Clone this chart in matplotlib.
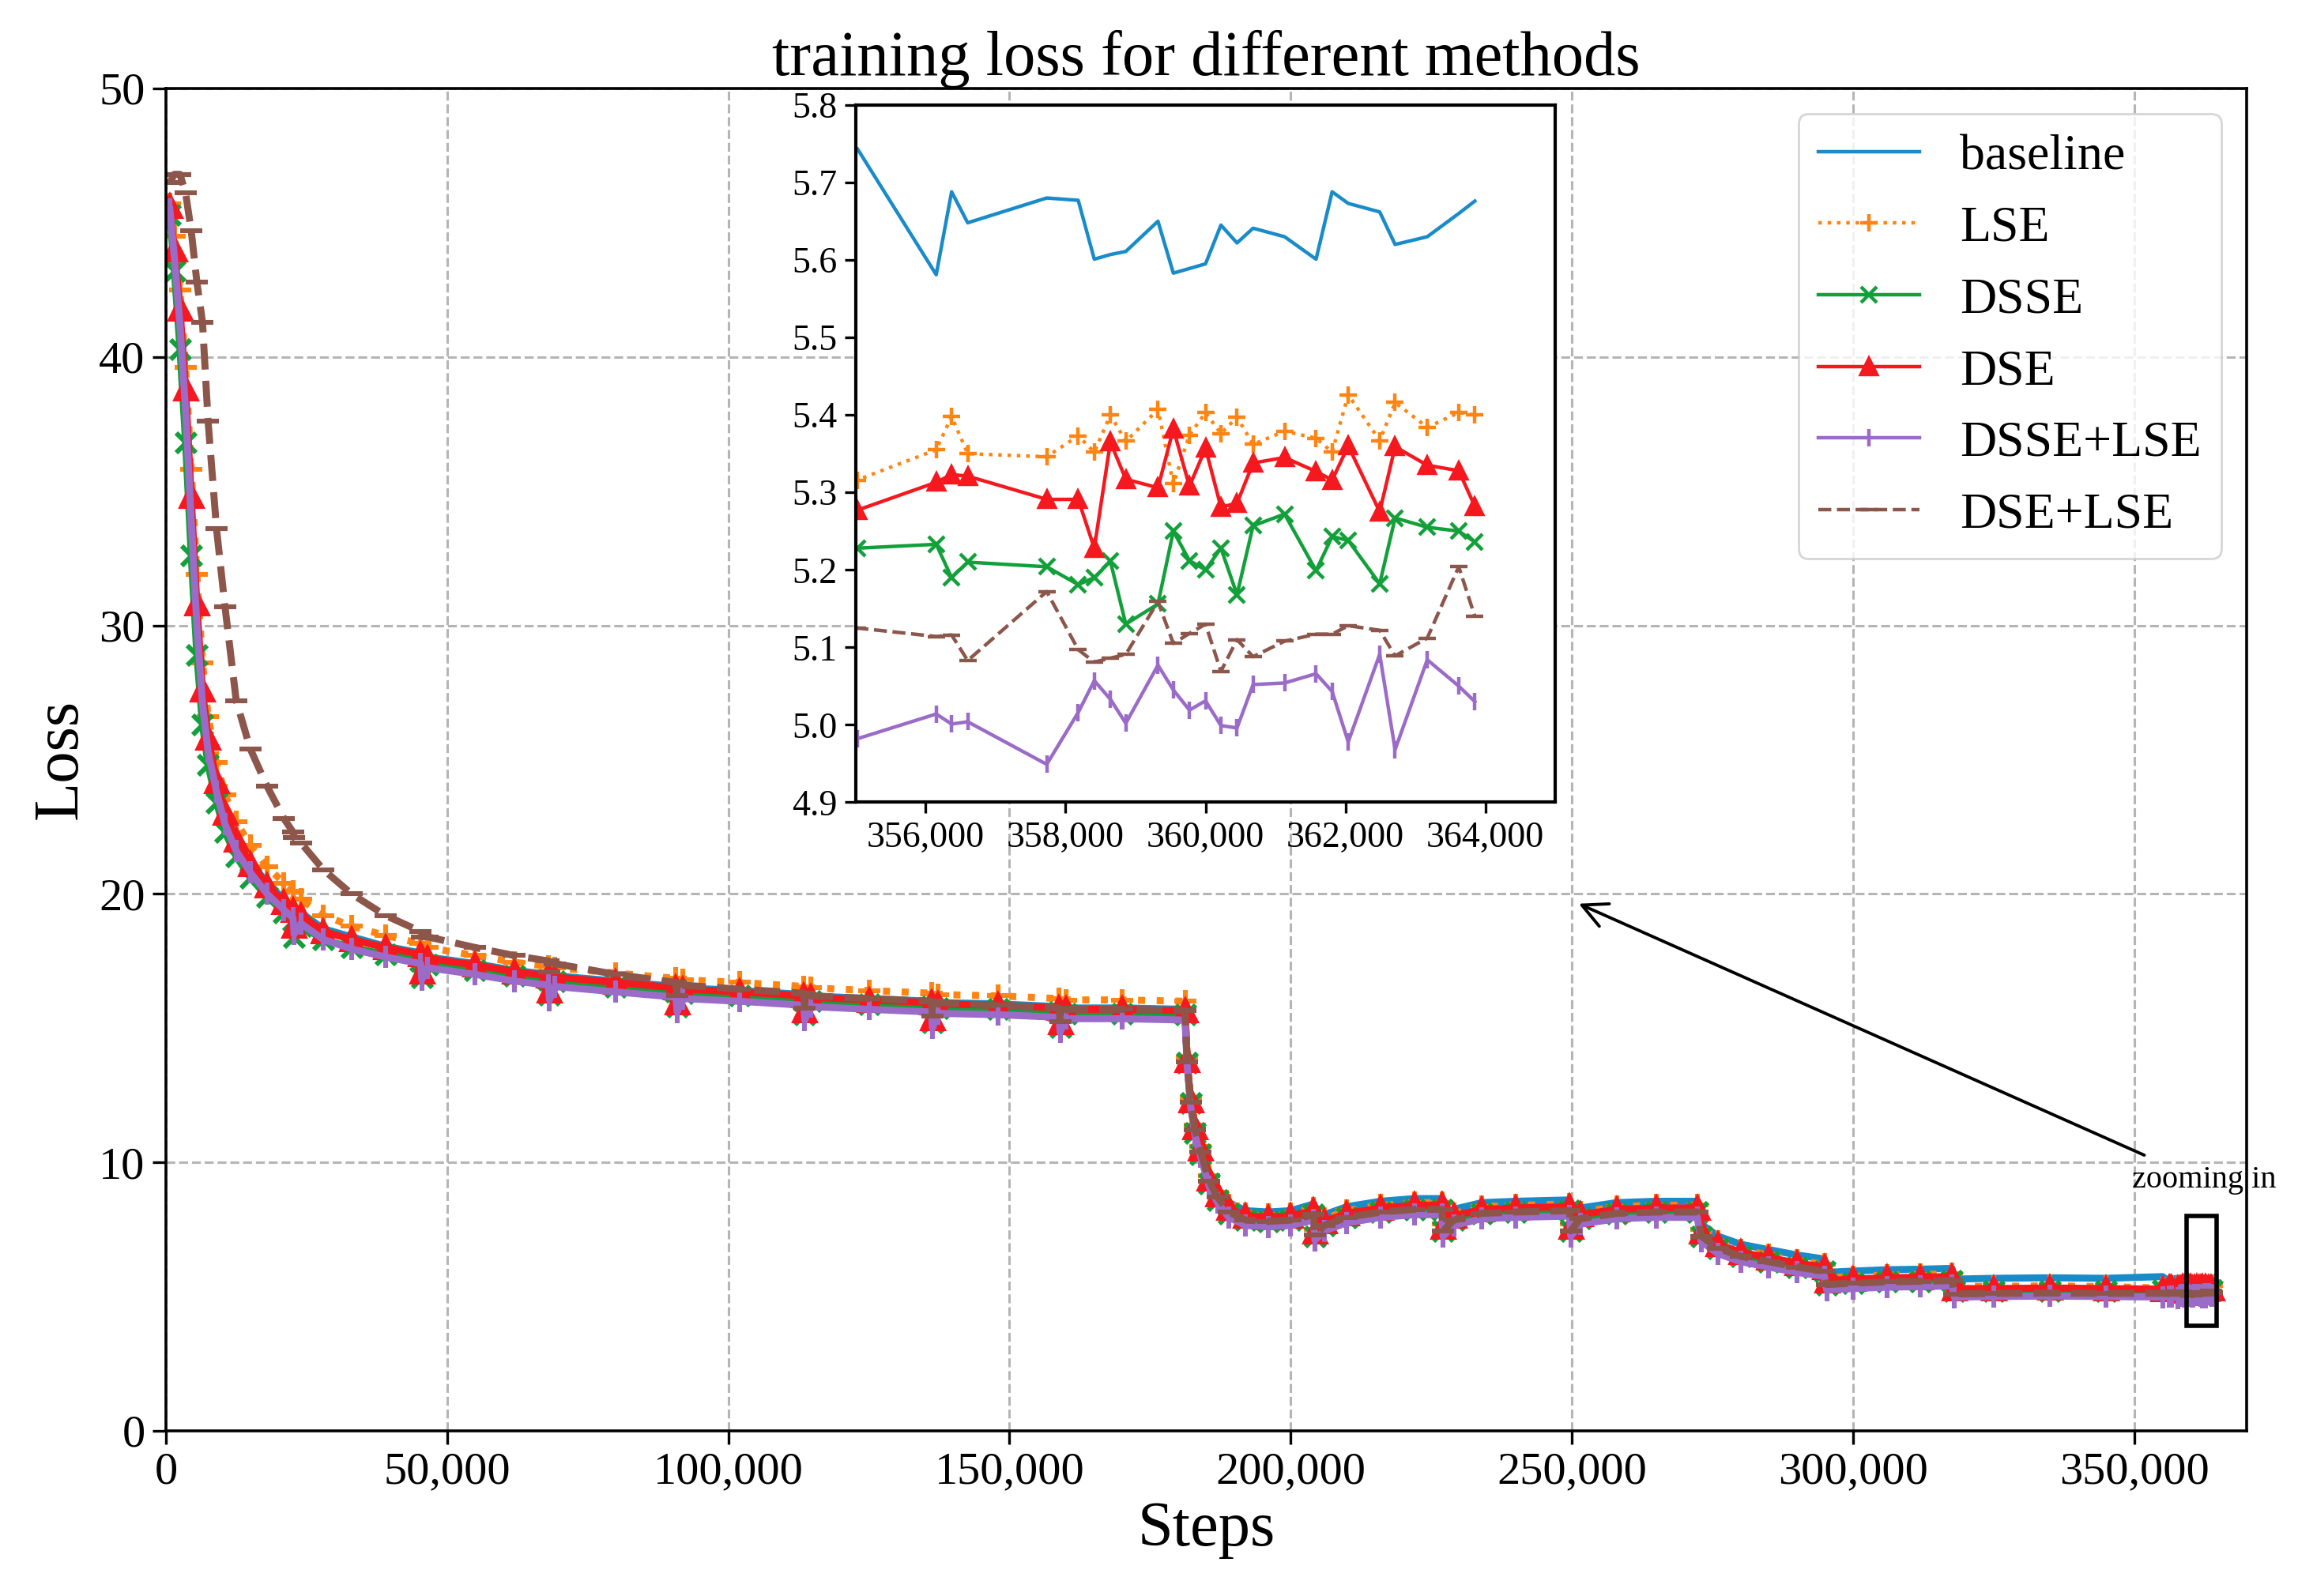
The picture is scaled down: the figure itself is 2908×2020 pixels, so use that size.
import matplotlib
matplotlib.use("Agg")
import matplotlib.pyplot as plt
from matplotlib.patches import Rectangle
from matplotlib.ticker import FuncFormatter, MultipleLocator

plt.rcParams['font.family'] = ['Liberation Serif', 'DejaVu Serif']

# ---- data ----
steps_main = [700, 1500, 2500, 3500, 4500, 5500, 6500, 7500, 9000, 10500,
              12500, 15000, 18000, 21000, 22600, 22800, 24000, 28000, 33000, 39000,
              45300, 45500, 46500, 55000, 62000, 68000, 68200, 69200, 80000, 90700,
              90900, 91900, 102000, 113400, 113600, 114600, 125000, 136100, 136300, 137300,
              148000, 158800, 159000, 160000, 170000, 181200, 181600, 182200, 183000, 184000,
              185500, 187000, 189000, 192000, 196000, 200000, 204100, 204300, 206000, 210000,
              216000, 222000, 226900, 227100, 229000, 234000, 240000, 249600, 249800, 251500,
              258000, 265000, 272300, 273000, 276000, 280000, 285000, 290000, 294900, 295300,
              300000, 306000, 312000, 317600, 318000, 325000, 335000, 345000]
steps_zoom = [355020, 356150, 356370, 356600, 357730, 358180, 358410, 358640, 358860, 359320,
              359540, 359770, 360000, 360220, 360450, 360680, 361130, 361580, 361810, 362040,
              362490, 362710, 363170, 363620, 363850]

baseline_main = [45.5, 43.6, 41.0, 37.6, 33.5, 29.6, 26.9, 25.4, 24.0, 22.9,
                 22.0, 21.2, 20.4, 19.8, 19.5, 18.9, 19.3, 18.7, 18.4, 18.05,
                 17.8, 17.2, 17.65, 17.4, 17.15, 17.0, 16.5, 16.95, 16.75, 16.55,
                 16.0, 16.5, 16.4, 16.25, 15.7, 16.2, 16.1, 16.0, 15.4, 15.95,
                 15.9, 15.8, 15.25, 15.75, 15.75, 15.7, 13.7, 12.2, 11.2, 10.6,
                 9.6, 9.0, 8.5, 8.2, 8.15, 8.2, 8.45, 7.6, 8.05, 8.35,
                 8.55, 8.65, 8.65, 7.8, 8.25, 8.5, 8.55, 8.6, 7.85, 8.3,
                 8.5, 8.55, 8.55, 7.7, 7.25, 6.95, 6.75, 6.55, 6.4, 5.9,
                 5.95, 6.0, 6.02, 6.05, 5.65, 5.68, 5.7, 5.68]
lse_main = [45.7, 44.5, 42.5, 39.6, 35.8, 31.9, 28.6, 26.6, 24.9, 23.7,
            22.7, 21.8, 21.0, 20.4, 20.1, 19.5, 19.8, 19.2, 18.8, 18.45,
            18.15, 17.6, 18.0, 17.7, 17.45, 17.3, 16.8, 17.25, 17.05, 16.85,
            16.35, 16.8, 16.7, 16.55, 16.05, 16.5, 16.4, 16.3, 15.75, 16.25,
            16.2, 16.1, 15.6, 16.05, 16.05, 16.0, 13.9, 12.4, 11.4, 10.6,
            9.5, 8.9, 8.4, 8.1, 8.05, 8.1, 8.3, 7.5, 7.9, 8.2,
            8.4, 8.5, 8.5, 7.7, 8.1, 8.35, 8.4, 8.45, 7.7, 8.15,
            8.35, 8.4, 8.4, 7.5, 7.05, 6.75, 6.55, 6.35, 6.2, 5.7,
            5.75, 5.8, 5.82, 5.85, 5.38, 5.38, 5.4, 5.37]
dsse_main = [45.3, 43.2, 40.3, 36.8, 32.6, 28.9, 26.3, 24.8, 23.4, 22.3,
             21.4, 20.6, 19.9, 19.3, 19.0, 18.4, 18.8, 18.3, 18.0, 17.75,
             17.5, 16.9, 17.35, 17.15, 16.95, 16.8, 16.25, 16.75, 16.55, 16.35,
             15.8, 16.3, 16.2, 16.05, 15.5, 16.0, 15.9, 15.8, 15.2, 15.75,
             15.7, 15.6, 15.05, 15.55, 15.55, 15.5, 13.7, 12.2, 11.1, 10.3,
             9.2, 8.6, 8.1, 7.85, 7.8, 7.85, 8.05, 7.25, 7.65, 7.95,
             8.15, 8.25, 8.25, 7.45, 7.85, 8.1, 8.15, 8.2, 7.45, 7.9,
             8.1, 8.15, 8.15, 7.25, 6.8, 6.5, 6.3, 6.1, 5.95, 5.45,
             5.5, 5.55, 5.57, 5.6, 5.2, 5.22, 5.22, 5.21]
dse_main = [45.6, 44.0, 41.8, 38.8, 34.8, 30.8, 27.6, 25.8, 24.2, 23.0,
            22.0, 21.1, 20.3, 19.7, 19.4, 18.8, 19.2, 18.6, 18.3, 18.0,
            17.75, 17.1, 17.6, 17.35, 17.1, 16.95, 16.4, 16.9, 16.7, 16.5,
            15.95, 16.45, 16.35, 16.2, 15.65, 16.15, 16.05, 15.95, 15.35, 15.9,
            15.85, 15.75, 15.2, 15.7, 15.7, 15.65, 13.8, 12.3, 11.3, 10.5,
            9.4, 8.8, 8.3, 8.0, 7.95, 8.0, 8.2, 7.4, 7.8, 8.1,
            8.3, 8.4, 8.4, 7.6, 8.0, 8.25, 8.3, 8.35, 7.6, 8.05,
            8.25, 8.3, 8.3, 7.4, 6.95, 6.65, 6.45, 6.25, 6.1, 5.6,
            5.65, 5.7, 5.72, 5.75, 5.3, 5.3, 5.32, 5.3]
dsse_lse_main = [45.5, 43.7, 41.2, 38.0, 33.9, 30.0, 27.1, 25.3, 23.8, 22.6,
                 21.6, 20.8, 20.0, 19.4, 19.1, 18.5, 18.9, 18.3, 17.95, 17.65,
                 17.4, 16.8, 17.25, 17.0, 16.75, 16.6, 16.05, 16.55, 16.35, 16.15,
                 15.6, 16.1, 16.0, 15.85, 15.3, 15.8, 15.7, 15.6, 15.0, 15.55,
                 15.5, 15.4, 14.85, 15.35, 15.35, 15.3, 13.6, 12.1, 11.0, 10.2,
                 9.1, 8.5, 7.95, 7.65, 7.6, 7.65, 7.85, 7.1, 7.45, 7.75,
                 7.95, 8.05, 8.05, 7.25, 7.65, 7.9, 7.95, 8.0, 7.25, 7.7,
                 7.9, 7.95, 7.95, 7.05, 6.6, 6.3, 6.1, 5.9, 5.75, 5.25,
                 5.3, 5.35, 5.37, 5.4, 4.98, 5.0, 5.02, 5.0]
dse_lse_main = [46.5, 46.8, 46.8, 46.1, 44.7, 42.8, 41.3, 37.6, 33.6, 30.7,
                27.2, 25.4, 24.0, 22.8, 22.3, 22.1, 21.9, 20.9, 20.0, 19.2,
                18.6, 18.4, 18.4, 18.0, 17.7, 17.5, 17.1, 17.4, 17.0, 16.7,
                16.2, 16.6, 16.45, 16.3, 15.75, 16.2, 16.1, 16.0, 15.45, 15.95,
                15.85, 15.75, 15.25, 15.7, 15.7, 15.65, 13.75, 12.25, 11.2, 10.4,
                9.3, 8.7, 8.15, 7.85, 7.8, 7.85, 8.05, 7.3, 7.65, 7.95,
                8.15, 8.25, 8.25, 7.45, 7.85, 8.1, 8.15, 8.2, 7.45, 7.9,
                8.1, 8.15, 8.15, 7.25, 6.8, 6.5, 6.3, 6.1, 5.95, 5.45,
                5.5, 5.55, 5.57, 5.6, 5.1, 5.12, 5.13, 5.12]

baseline_zoom = [5.744, 5.581, 5.688, 5.648, 5.680, 5.677, 5.601, 5.607, 5.611, 5.650,
                 5.583, 5.589, 5.595, 5.645, 5.622, 5.641, 5.630, 5.601, 5.688, 5.673,
                 5.662, 5.620, 5.630, 5.660, 5.676]
lse_zoom = [5.316, 5.355, 5.398, 5.350, 5.346, 5.373, 5.352, 5.400, 5.366, 5.407,
            5.311, 5.374, 5.403, 5.376, 5.397, 5.362, 5.379, 5.370, 5.352, 5.426,
            5.367, 5.416, 5.384, 5.403, 5.400]
dsse_zoom = [5.228, 5.233, 5.190, 5.210, 5.204, 5.181, 5.190, 5.211, 5.130, 5.156,
             5.250, 5.212, 5.200, 5.228, 5.168, 5.257, 5.272, 5.199, 5.243, 5.238,
             5.182, 5.267, 5.255, 5.250, 5.236]
dse_zoom = [5.277, 5.313, 5.323, 5.321, 5.291, 5.291, 5.228, 5.365, 5.317, 5.306,
            5.382, 5.308, 5.357, 5.281, 5.286, 5.338, 5.345, 5.327, 5.316, 5.360,
            5.275, 5.359, 5.335, 5.328, 5.282]
dsse_lse_zoom = [4.982, 5.014, 5.001, 5.004, 4.949, 5.016, 5.057, 5.033, 5.002, 5.077,
                 5.045, 5.019, 5.031, 4.999, 4.996, 5.052, 5.054, 5.066, 5.043, 4.978,
                 5.091, 4.968, 5.084, 5.050, 5.030]
dse_lse_zoom = [5.125, 5.114, 5.116, 5.083, 5.172, 5.097, 5.081, 5.086, 5.091, 5.159,
                5.105, 5.118, 5.130, 5.069, 5.110, 5.088, 5.108, 5.117, 5.117, 5.128,
                5.122, 5.089, 5.112, 5.204, 5.140]

labels = ['baseline', 'LSE', 'DSSE', 'DSE', 'DSSE+LSE', 'DSE+LSE']
series = [baseline_main + baseline_zoom, lse_main + lse_zoom, dsse_main + dsse_zoom,
          dse_main + dse_zoom, dsse_lse_main + dsse_lse_zoom, dse_lse_main + dse_lse_zoom]
steps = steps_main + steps_zoom

colors = ['#1a8bc9', '#ff8412', '#12a03a', '#f5181e', '#9b6bc8', '#8c564b']
lstyles = ['-', ':', '-', '-', '-', '--']
markers = [None, '+', 'x', '^', '|', '_']
msizes = [0, 8, 7, 7, 8, 8]

fig = plt.figure(figsize=(14.54, 10.10), dpi=200)
ax = fig.add_axes([0.0722, 0.1035, 0.9055, 0.8411])

# main panel: heavier strokes to mimic the dense noisy bands
for vals, lab, c, ls, mk, ms in zip(series, labels, colors, lstyles, markers, msizes):
    ax.plot(steps, vals, color=c, linestyle=ls, linewidth=3.2, marker=mk,
            markersize=ms + 2, markeredgewidth=2.2)
    # proxy for legend with thin line like the reference
    ax.plot([], [], color=c, linestyle=ls, linewidth=1.6, marker=mk,
            markersize=ms, markeredgewidth=1.6, label=lab)

ax.set_xlim(0, 370000)
ax.set_ylim(0, 50)
ax.xaxis.set_major_locator(MultipleLocator(50000))
ax.yaxis.set_major_locator(MultipleLocator(10))
ax.xaxis.set_major_formatter(FuncFormatter(lambda v, p: f'{v:,.0f}'))
ax.tick_params(labelsize=21, length=6, width=1.2)
ax.grid(True, linestyle='--', color='#b5b5b5', linewidth=1.1)
for s in ax.spines.values():
    s.set_linewidth(1.3)
ax.set_title('training loss for different methods', fontsize=29, pad=5)
ax.set_xlabel('Steps', fontsize=29)
ax.set_ylabel('Loss', fontsize=29)
ax.legend(loc='upper right', fontsize=23)

# zoom marker, arrow, note
ax.add_patch(Rectangle((359300, 3.9), 5400, 4.1, fill=False, edgecolor='black', linewidth=2, zorder=5))
ax.annotate('', xy=(250500, 19.7), xytext=(352500, 10.2),
            arrowprops=dict(arrowstyle='->', color='black', lw=1.4, mutation_scale=28))
ax.text(349600, 9.06, 'zooming in', fontsize=14.5, va='baseline', ha='left')

# inset
axin = fig.add_axes([0.3724, 0.4973, 0.3044, 0.4369])
for vals, c, ls, mk, ms in zip(series, colors, lstyles, markers, msizes):
    axin.plot(steps, vals, color=c, linestyle=ls, linewidth=1.6, marker=mk,
              markersize=ms, markeredgewidth=1.6)
axin.set_xlim(355000, 365000)
axin.set_ylim(4.9, 5.8)
axin.xaxis.set_major_locator(MultipleLocator(2000))
axin.yaxis.set_major_locator(MultipleLocator(0.1))
axin.xaxis.set_major_formatter(FuncFormatter(lambda v, p: f'{v:,.0f}'))
axin.yaxis.set_major_formatter(FuncFormatter(lambda v, p: f'{v:.1f}'))
axin.tick_params(labelsize=16.5, length=5, width=1.2)
for s in axin.spines.values():
    s.set_linewidth(1.5)

fig.savefig('out.png', dpi=200)
